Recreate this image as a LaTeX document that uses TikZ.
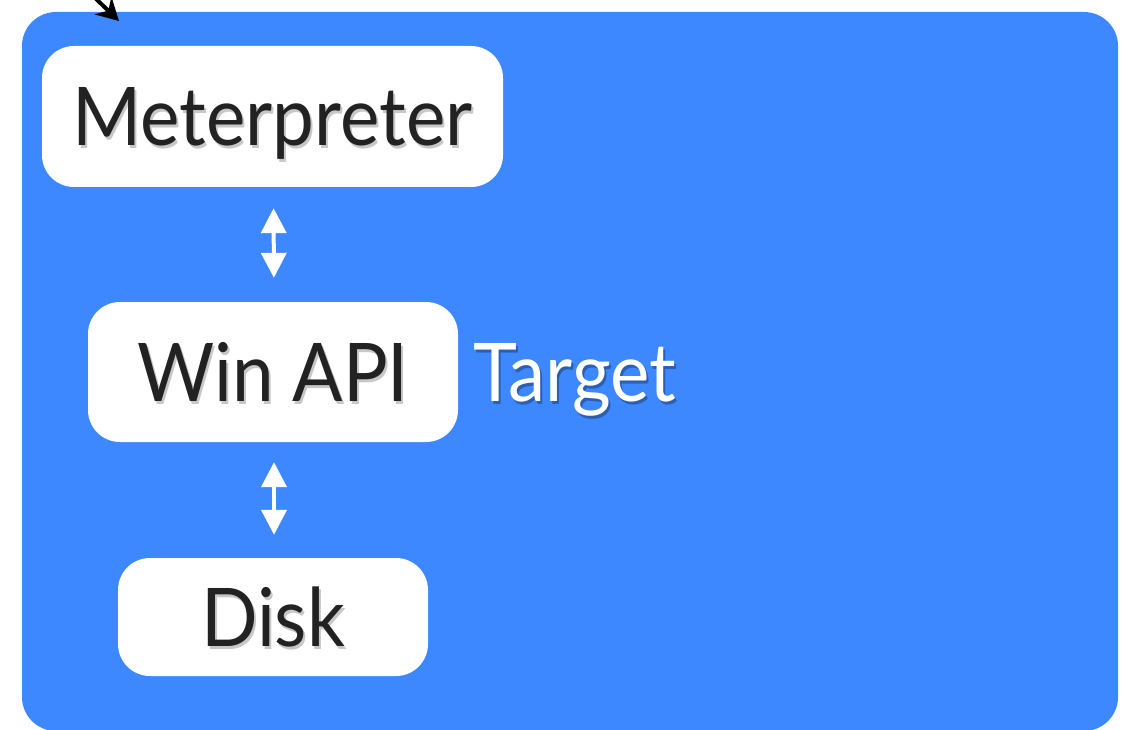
\documentclass[tikz,border=0pt]{standalone}
\usepackage{fontspec}
\setmainfont{Lato}[FakeStretch=0.92]
\usetikzlibrary{arrows.meta}
\definecolor{bg}{RGB}{61,136,254}
\definecolor{txt}{RGB}{34,34,34}
\newcommand\shtext[2]{\leavevmode\rlap{\raisebox{-3pt}{\kern2pt\textcolor{#1}{#2}}}#2}
\tikzset{
  bigfont/.style={font=\fontsize{81}{90}\selectfont, text height=58pt, text depth=0pt},
  card/.style={fill=white, rounded corners=32pt, inner sep=0pt, text=txt, bigfont},
  link/.style={draw=white, line width=4pt, {Triangle[width=25pt,length=25pt]}-{Triangle[width=25pt,length=25pt]}},
}
\begin{document}
\begin{tikzpicture}[x=1pt,y=-1pt]
\useasboundingbox (0,0) rectangle (1132,730);
\fill[bg, rounded corners=34pt] (22,12) rectangle (1118,731);
\node[card, minimum width=461pt, minimum height=141pt] (met) at (272.5,116.5) {\shtext{black!22}{Meterpreter}};
\node[card, minimum width=370pt, minimum height=140pt] (win) at (273,372) {\shtext{black!22}{Win API}};
\node[card, minimum width=310pt, minimum height=118pt] (disk) at (273,617) {\shtext{black!22}{Disk}};
\node[text=white, bigfont, anchor=west, inner sep=0pt] (tgt) at (473,372) {\shtext{bg!70!black}{Target}};
\draw[link, shorten <=21pt, shorten >=24pt] ([xshift=1pt]met.south) -- ([xshift=1pt]win.north);
\draw[link, shorten <=20pt, shorten >=23pt] ([xshift=1pt]win.south) -- ([xshift=1pt]disk.north);
\coordinate (src) at (92,-5);
\coordinate (dst) at (119,21);
\draw[black, line width=4pt, -{Stealth[width=24pt,length=22pt]}] (src) -- (dst);
\end{tikzpicture}
\end{document}
